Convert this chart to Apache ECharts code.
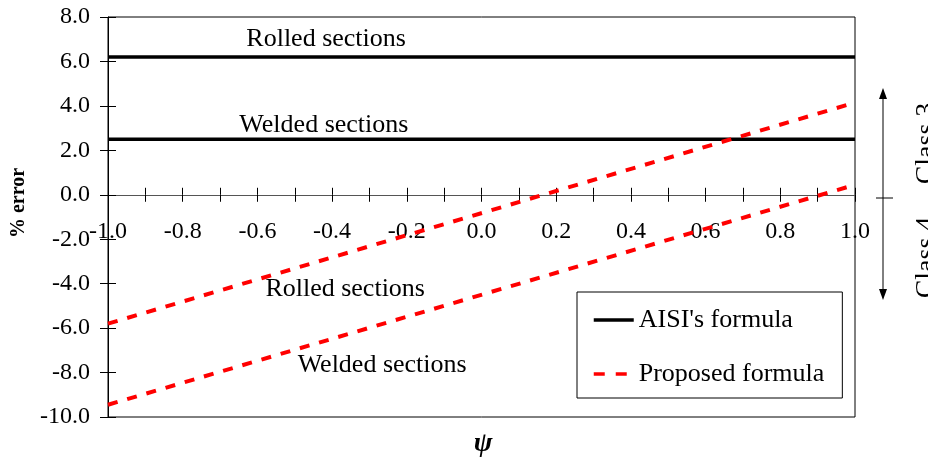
<!DOCTYPE html>
<html>
<head>
<meta charset="utf-8">
<script src="https://cdn.jsdelivr.net/npm/echarts@6/dist/echarts.min.js"></script>
<style>
html,body{margin:0;padding:0;background:#fff;}
#chart{width:928px;height:460px;}
</style>
</head>
<body>
<div id="chart"></div>
<script>
// ---- data ----
const psi = [-1.0, 1.0];
const aisiRolled = [6.2, 6.2];
const aisiWelded = [2.5, 2.5];
const proposedRolled = [-5.8, 4.15];
const proposedWelded = [-9.45, 0.45];

const annotTexts = ['Rolled sections', 'Welded sections', 'Rolled sections', 'Welded sections'];
const annotPsi = [-0.416, -0.422, -0.365, -0.266];
const annotErr = [6.98, 3.11, -4.24, -7.66];

const xMin = -1.0, xMax = 1.0, xStep = 0.1;
const yMin = -10.0, yMax = 8.0, yStep = 2.0;

const FONT = "'Liberation Serif','Times New Roman',serif";

const pairs = (xs, ys) => xs.map((x, i) => [x, ys[i]]);

const chart = echarts.init(document.getElementById('chart'), null, {renderer: 'canvas'});

const redDash = [10, 10];
const plot = {left: 108, right: 73, top: 17, bottom: 43};
// upper band of the plot: from y = 0 up to y = max (used to place the psi labels at the zero line)
const zeroBottom = 460 - (plot.top + (yMax / (yMax - yMin)) * (460 - plot.top - plot.bottom));

const option = {
  backgroundColor: '#fff',
  animation: false,
  grid: [
    Object.assign({show: true, borderColor: '#000', borderWidth: 1, containLabel: false, outerBoundsMode: 'none'}, plot),
    Object.assign({show: false, containLabel: false, outerBoundsMode: 'none'}, plot),
    {show: false, left: plot.left, right: plot.right, top: plot.top, bottom: zeroBottom, containLabel: false, outerBoundsMode: 'none'}
  ],
  legend: {
    orient: 'vertical',
    left: 577, top: 292,
    padding: [15, 18, 11, 15],
    itemGap: 28,
    itemWidth: 40, itemHeight: 14,
    borderColor: '#000', borderWidth: 1,
    backgroundColor: '#fff',
    textStyle: {fontFamily: FONT, fontSize: 26, color: '#000', lineHeight: 26},
    data: [
      {name: "AISI's formula", itemStyle: {opacity: 0}, lineStyle: {color: '#000', width: 3.5, type: 'solid'}},
      {name: 'Proposed formula', itemStyle: {opacity: 0}, lineStyle: {color: '#ff0000', width: 3.5, type: [11, 11]}}
    ]
  },
  xAxis: [
    {
      gridIndex: 0,
      type: 'value', min: xMin, max: xMax, interval: xStep,
      position: 'bottom',
      axisLine: {show: true, onZero: true, lineStyle: {color: '#555', width: 1}},
      axisTick: {show: true, inside: true, length: 7, lineStyle: {color: '#000', width: 1}},
      axisLabel: {show: false},
      splitLine: {show: false}
    },
    {
      gridIndex: 1, show: false,
      type: 'value', min: xMin, max: xMax, interval: xStep
    },
    {
      gridIndex: 2,
      type: 'value', min: xMin, max: xMax, interval: xStep,
      position: 'bottom',
      axisLine: {show: false, onZero: false},
      axisTick: {show: true, inside: false, length: 7, lineStyle: {color: '#000', width: 1}},
      axisLabel: {
        show: true, margin: 25, color: '#000', fontFamily: FONT, fontSize: 24,
        formatter: v => (Math.abs(Math.round(v * 10)) % 2 === 0) ? v.toFixed(1) : ''
      },
      splitLine: {show: false}
    }
  ],
  yAxis: [
    {
      gridIndex: 0,
      type: 'value', min: yMin, max: yMax, interval: yStep,
      position: 'left',
      axisLine: {show: true, onZero: false, lineStyle: {color: '#000', width: 1}},
      axisTick: {show: true, inside: false, length: 8, lineStyle: {color: '#000', width: 1}},
      axisLabel: {margin: 18, color: '#000', fontFamily: FONT, fontSize: 24, formatter: v => v.toFixed(1)},
      splitLine: {show: false}
    },
    {
      gridIndex: 1,
      type: 'value', min: yMin, max: yMax, interval: yStep,
      position: 'left',
      axisLine: {show: false, onZero: false},
      axisTick: {show: true, inside: true, length: 8, lineStyle: {color: '#000', width: 1}},
      axisLabel: {show: false},
      splitLine: {show: false}
    },
    {
      gridIndex: 2, show: false,
      type: 'value', min: 0, max: yMax
    }
  ],
  series: [
    {
      name: "AISI's formula", type: 'line', xAxisIndex: 0, yAxisIndex: 0,
      data: pairs(psi, aisiRolled), symbol: 'none', silent: true,
      lineStyle: {color: '#000', width: 3.5, type: 'solid'}, itemStyle: {color: '#000'}, z: 3
    },
    {
      name: "AISI's formula", type: 'line', xAxisIndex: 0, yAxisIndex: 0,
      data: pairs(psi, aisiWelded), symbol: 'none', silent: true,
      lineStyle: {color: '#000', width: 3.5, type: 'solid'}, itemStyle: {color: '#000'}, z: 3
    },
    {
      name: 'Proposed formula', type: 'line', xAxisIndex: 0, yAxisIndex: 0,
      data: pairs(psi, proposedRolled), symbol: 'none', silent: true,
      lineStyle: {color: '#ff0000', width: 4, type: redDash}, itemStyle: {color: '#ff0000'}, z: 4
    },
    {
      name: 'Proposed formula', type: 'line', xAxisIndex: 0, yAxisIndex: 0,
      data: pairs(psi, proposedWelded), symbol: 'none', silent: true,
      lineStyle: {color: '#ff0000', width: 4, type: redDash}, itemStyle: {color: '#ff0000'}, z: 4
    },
    {
      name: 'annotations', type: 'scatter', xAxisIndex: 0, yAxisIndex: 0,
      symbolSize: 0, silent: true, z: 5,
      itemStyle: {opacity: 1},
      data: annotTexts.map((t, i) => ({name: t, value: [annotPsi[i], annotErr[i]]})),
      label: {
        show: true, position: 'inside', formatter: '{b}', opacity: 1,
        fontFamily: FONT, fontSize: 26, color: '#000'
      }
    }
  ],
  graphic: [
    {type: 'text', x: 19, y: 203, rotation: Math.PI / 2, style: {text: '% error', font: "bold 20px 'Liberation Serif', serif", fill: '#000', align: 'center', verticalAlign: 'middle'}},
    {type: 'text', x: 483, y: 444, style: {text: 'ψ', font: "italic bold 28px 'Liberation Serif', serif", fill: '#000', align: 'center', verticalAlign: 'middle'}},
    {type: 'line', shape: {x1: 883, y1: 96, x2: 883, y2: 292}, style: {stroke: '#000', lineWidth: 1}},
    {type: 'polygon', shape: {points: [[883, 88], [879, 99], [887, 99]]}, style: {fill: '#000'}},
    {type: 'polygon', shape: {points: [[883, 300], [879, 289], [887, 289]]}, style: {fill: '#000'}},
    {type: 'line', shape: {x1: 876, y1: 198, x2: 893, y2: 198}, style: {stroke: '#000', lineWidth: 1}},
    {type: 'text', x: 926.5, y: 143.5, rotation: Math.PI / 2, style: {text: 'Class 3', font: "28px 'Liberation Serif', serif", fill: '#000', align: 'center', verticalAlign: 'middle'}},
    {type: 'text', x: 926.5, y: 257.5, rotation: Math.PI / 2, style: {text: 'Class 4', font: "28px 'Liberation Serif', serif", fill: '#000', align: 'center', verticalAlign: 'middle'}}
  ]
};

chart.setOption(option);
</script>
</body>
</html>
